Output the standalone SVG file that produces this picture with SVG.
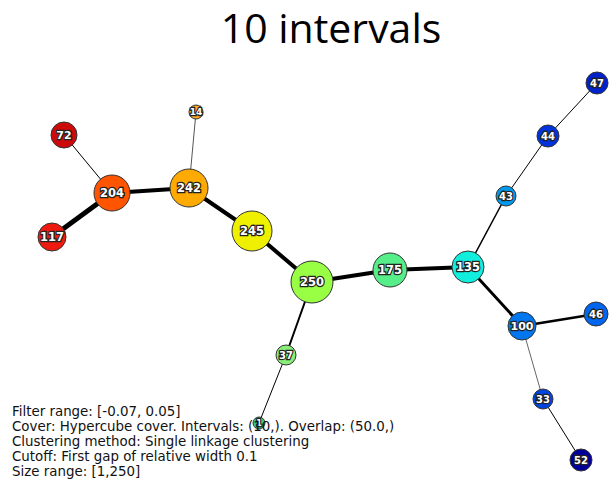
<svg xmlns="http://www.w3.org/2000/svg" width="611" height="481" viewBox="0 0 611 481">
  <style>
    .node circle { stroke: #333; stroke-width: 1; }
    .node text { font-family: "DejaVu Sans", sans-serif; font-weight: bold; fill: #fff; stroke: #222; stroke-width: 2.4; paint-order: stroke; text-anchor: middle; dominant-baseline: central; }
    .edges line { stroke: #000; stroke-linecap: round; }
    .info { font-family: "DejaVu Sans", sans-serif; font-size: 13.4px; fill: #111; }
    .title { font-family: "Open Sans", "Liberation Sans", sans-serif; font-size: 41px; fill: #000; text-anchor: middle; }
  </style>
  <rect width="611" height="481" fill="#fff"/>
  <text class="title" x="331" y="43">10 intervals</text>

  <g class="edges">
    <line x1="64" y1="135" x2="112" y2="193" stroke-width="1"/>
    <line x1="52" y1="237" x2="112" y2="193" stroke-width="5"/>
    <line x1="112" y1="193" x2="189" y2="188" stroke-width="4"/>
    <line x1="196" y1="112" x2="189" y2="188" stroke-width="1" style="stroke:#555"/>
    <line x1="189" y1="188" x2="252" y2="231" stroke-width="4"/>
    <line x1="252" y1="231" x2="312" y2="282" stroke-width="4"/>
    <line x1="312" y1="282" x2="390" y2="270" stroke-width="4"/>
    <line x1="390" y1="270" x2="468" y2="267" stroke-width="4"/>
    <line x1="312" y1="282" x2="286" y2="355" stroke-width="2"/>
    <line x1="286" y1="355" x2="259" y2="423" stroke-width="1"/>
    <line x1="468" y1="267" x2="506" y2="196" stroke-width="1.5"/>
    <line x1="506" y1="196" x2="548" y2="136" stroke-width="1"/>
    <line x1="548" y1="136" x2="597" y2="83" stroke-width="1"/>
    <line x1="468" y1="267" x2="522" y2="326" stroke-width="3"/>
    <line x1="522" y1="326" x2="596" y2="314" stroke-width="2.5"/>
    <line x1="522" y1="326" x2="543" y2="399" stroke-width="1" style="stroke:#666"/>
    <line x1="543" y1="399" x2="581" y2="460" stroke-width="1"/>
  </g>

  <g id="n72" class="node"><circle cx="64" cy="135" r="13" fill="#cc0a0a"/><text x="64" y="135" font-size="11">72</text></g>
  <g id="n117" class="node"><circle cx="52" cy="237" r="14" fill="#ee1a10"/><text x="52" y="237" font-size="11.5">117</text></g>
  <g id="n204" class="node"><circle cx="112" cy="193" r="18" fill="#ff5500"/><text x="112" y="193" font-size="11.5">204</text></g>
  <g id="n242" class="node"><circle cx="189" cy="188" r="19" fill="#ffaa00"/><text x="189" y="188" font-size="11.5">242</text></g>
  <g id="n14" class="node"><circle cx="196" cy="112" r="7" fill="#ffaa22"/><text x="196" y="112" font-size="9">14</text></g>
  <g id="n245" class="node"><circle cx="252" cy="231" r="20" fill="#eef000"/><text x="252" y="231" font-size="11.5">245</text></g>
  <g id="n250" class="node"><circle cx="312" cy="282" r="21" fill="#99ff44"/><text x="312" y="282" font-size="11.5">250</text></g>
  <g id="n175" class="node"><circle cx="390" cy="270" r="17" fill="#55ee88"/><text x="390" y="270" font-size="11.5">175</text></g>
  <g id="n135" class="node"><circle cx="468" cy="267" r="16" fill="#11eedd"/><text x="468" y="267" font-size="11.5">135</text></g>
  <g id="n43" class="node"><circle cx="506" cy="196" r="10" fill="#0099ee"/><text x="506" y="196" font-size="10">43</text></g>
  <g id="n44" class="node"><circle cx="548" cy="136" r="11" fill="#0033dd"/><text x="548" y="136" font-size="10">44</text></g>
  <g id="n47" class="node"><circle cx="597" cy="83" r="11" fill="#0022cc"/><text x="597" y="83" font-size="10">47</text></g>
  <g id="n100" class="node"><circle cx="522" cy="326" r="14" fill="#0077ee"/><text x="522" y="326" font-size="11">100</text></g>
  <g id="n46" class="node"><circle cx="596" cy="314" r="12" fill="#0066ee"/><text x="596" y="314" font-size="10">46</text></g>
  <g id="n33" class="node"><circle cx="543" cy="399" r="10" fill="#0044dd"/><text x="543" y="399" font-size="10">33</text></g>
  <g id="n52" class="node"><circle cx="581" cy="460" r="11" fill="#000099"/><text x="581" y="460" font-size="10">52</text></g>
  <g id="n37" class="node"><circle cx="286" cy="355" r="10" fill="#88ee77"/><text x="286" y="355" font-size="10">37</text></g>
  <g id="n1" class="node"><circle cx="259" cy="423" r="6" fill="#33cc77"/><text x="259" y="423" font-size="8">1</text></g>

  <g id="info">
    <text class="info" x="12" y="416">Filter range: [-0.07, 0.05]</text>
    <text class="info" x="12" y="431">Cover: Hypercube cover. Intervals: (10,). Overlap: (50.0,)</text>
    <text class="info" x="12" y="446">Clustering method: Single linkage clustering</text>
    <text class="info" x="12" y="461">Cutoff: First gap of relative width 0.1</text>
    <text class="info" x="12" y="476">Size range: [1,250]</text>
  </g>
</svg>
